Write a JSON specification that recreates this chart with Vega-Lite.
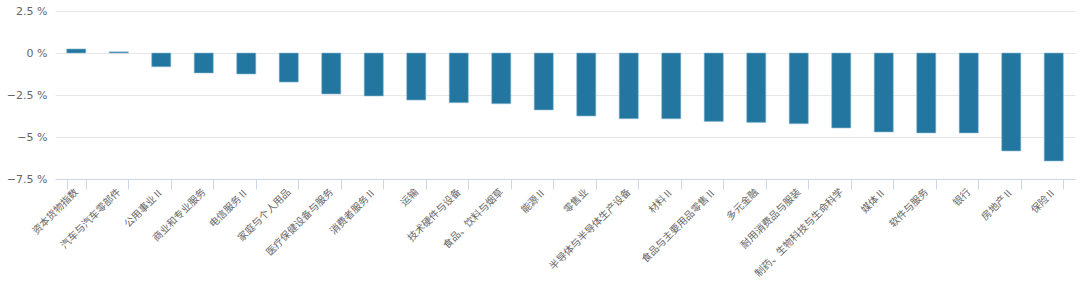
{
  "$schema": "https://vega.github.io/schema/vega-lite/v6.json",
  "autosize": {"type": "none"},
  "padding": {"left": 55, "top": 11, "right": 5, "bottom": 104},
  "width": 1020,
  "height": 168,
  "background": "#ffffff",
  "config": {"view": {"stroke": null}, "font": "Noto Sans CJK SC"},
  "data": {
    "values": [
      {"sector": "资本货物指数", "change": 0.24},
      {"sector": "汽车与汽车零部件", "change": 0.07},
      {"sector": "公用事业Ⅱ", "change": -0.82},
      {"sector": "商业和专业服务", "change": -1.19},
      {"sector": "电信服务Ⅱ", "change": -1.25},
      {"sector": "家庭与个人用品", "change": -1.73},
      {"sector": "医疗保健设备与服务", "change": -2.44},
      {"sector": "消费者服务Ⅱ", "change": -2.56},
      {"sector": "运输", "change": -2.8},
      {"sector": "技术硬件与设备", "change": -2.96},
      {"sector": "食品、饮料与烟草", "change": -3.02},
      {"sector": "能源Ⅱ", "change": -3.39},
      {"sector": "零售业", "change": -3.75},
      {"sector": "半导体与半导体生产设备", "change": -3.91},
      {"sector": "材料Ⅱ", "change": -3.92},
      {"sector": "食品与主要用品零售Ⅱ", "change": -4.07},
      {"sector": "多元金融", "change": -4.13},
      {"sector": "耐用消费品与服装", "change": -4.21},
      {"sector": "制药、生物科技与生命科学", "change": -4.46},
      {"sector": "媒体Ⅱ", "change": -4.7},
      {"sector": "软件与服务", "change": -4.76},
      {"sector": "银行", "change": -4.76},
      {"sector": "房地产Ⅱ", "change": -5.83},
      {"sector": "保险Ⅱ", "change": -6.43}
    ]
  },
  "mark": {"type": "bar", "color": "#2276a0", "stroke": "#8fbcd4", "strokeWidth": 0.6},
  "encoding": {
    "x": {
      "field": "sector",
      "type": "nominal",
      "sort": null,
      "scale": {"paddingInner": 0.55, "paddingOuter": 0.275},
      "axis": {
        "title": null,
        "labelAngle": -45,
        "labelAlign": "right",
        "labelBaseline": "middle",
        "labelColor": "#666666",
        "labelFontSize": 10,
        "labelPadding": 1,
        "labelLimit": 300,
        "labelOverlap": false,
        "tickBand": "extent",
        "tickSize": 10,
        "tickColor": "#ccd6eb",
        "domainColor": "#ccd6eb",
        "grid": false
      }
    },
    "y": {
      "field": "change",
      "type": "quantitative",
      "scale": {"domain": [-7.5, 2.5], "nice": false, "zero": false},
      "axis": {
        "title": null,
        "values": [-7.5, -5, -2.5, 0, 2.5],
        "labelExpr": "format(datum.value, '.1~f') + ' %'",
        "labelColor": "#666666",
        "labelFontSize": 11,
        "labelFont": "DejaVu Sans",
        "labelPadding": 8,
        "domain": false,
        "ticks": false,
        "grid": true,
        "gridColor": "#e6e6e6"
      }
    }
  }
}
